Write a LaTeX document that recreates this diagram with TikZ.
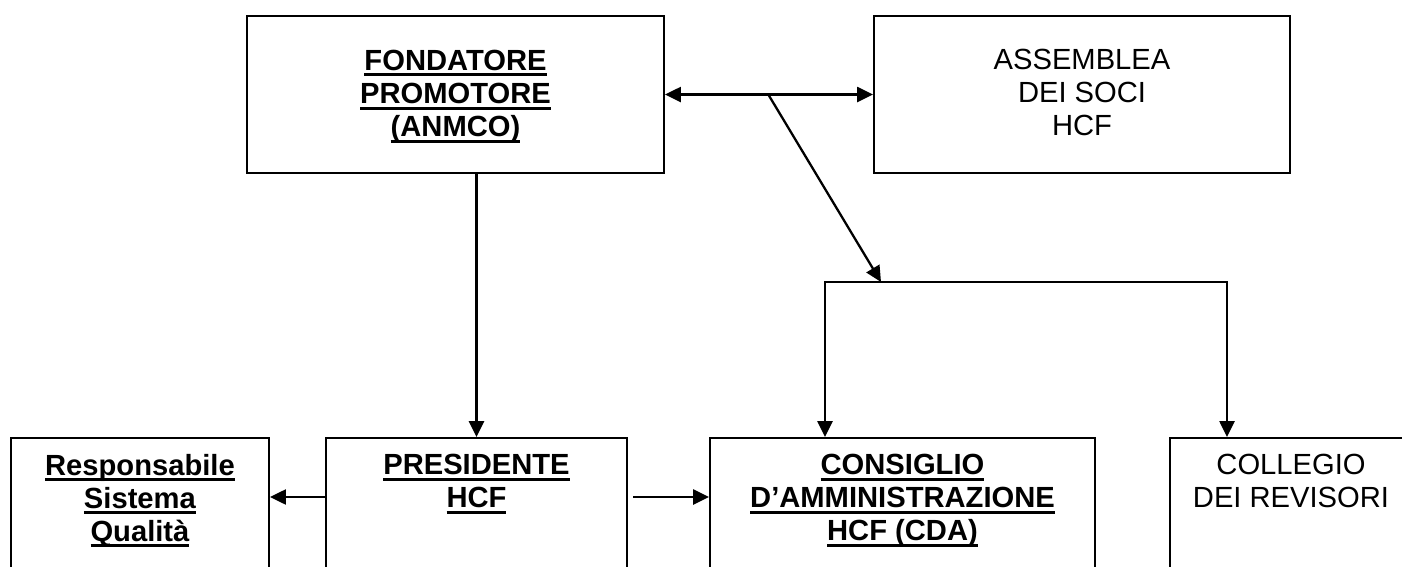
\documentclass[tikz,border=0pt]{standalone}
\usepackage{fontspec}
\setmainfont{Liberation Sans}
\usetikzlibrary{arrows.meta}
\newsavebox{\ulbox}
\newcommand{\ulbf}[1]{\sbox{\ulbox}{\textbf{#1}}\rlap{\rule[-3.3pt]{\wd\ulbox}{1.7pt}}\usebox{\ulbox}}

\begin{document}
\begin{tikzpicture}[x=0.02cm,y=-0.02cm,font=\fontsize{16.6}{18.8}\selectfont,
    box/.style={draw,line width=1.2pt,inner sep=0pt},
    lbl/.style={align=center,inner sep=0pt,anchor=north,yshift=-0.34cm},
    arr/.style={line width=1.3pt,-{Triangle[length=9pt,width=8.5pt]}},
    darr/.style={line width=1.3pt,{Triangle[length=9pt,width=8.5pt]}-{Triangle[length=9pt,width=8.5pt]}}]
    \useasboundingbox (0,0) rectangle (1402,566);
    \clip (0,0) rectangle (1402,566);
    % upper row
    \node[box,minimum width=8.34cm,minimum height=3.14cm,
        label={[lbl,yshift=-0.36cm]north:\ulbf{FONDATORE}\\\ulbf{PROMOTORE}\\\ulbf{(ANMCO)}}] (fond) at (455.5,94.5) {};
    \node[box,minimum width=8.32cm,minimum height=3.14cm,
        label={[lbl,yshift=-0.34cm]north:ASSEMBLEA\\DEI SOCI\\HCF}] (assem) at (1082,94.5) {};
    % lower row, cut off by the page edge
    \foreach \n/\cx/\w/\txt in {resp/140/5.16/{\ulbf{Responsabile}\\\ulbf{Sistema}\\\ulbf{Qualità}},
        pres/476.5/6.02/{\ulbf{PRESIDENTE}\\\ulbf{HCF}},
        cda/902.5/7.7/{\ulbf{CONSIGLIO}\\\ulbf{D’AMMINISTRAZIONE}\\\ulbf{HCF (CDA)}},
        coll/1291/4.84/{COLLEGIO\\DEI REVISORI}} {
        \node[box,anchor=north,minimum width=\w cm,minimum height=4cm,
            label={[lbl]north:\txt}] (\n) at (\cx,437) {};
    }
    \coordinate (fork) at (768,94);
    \coordinate (bl) at (825,282);
    \coordinate (br) at (1227,282);
    \coordinate (split) at (881,282);
    \draw[darr] (fond.east) -- (assem.west);
    \draw[arr] (fork) -- (split);
    \draw[darr] (cda.north -| bl) -- (bl) -- (br) -- (coll.north -| br);
    \draw[arr] (fond.south -| pres.north) -- (pres.north);
    \draw[arr] ([yshift=-1.2cm]pres.north west) -- ([yshift=-1.2cm]resp.north east);
    \draw[arr] ([xshift=0.1cm,yshift=-1.2cm]pres.north east) -- ([yshift=-1.2cm]cda.north west);
\end{tikzpicture}
\end{document}
